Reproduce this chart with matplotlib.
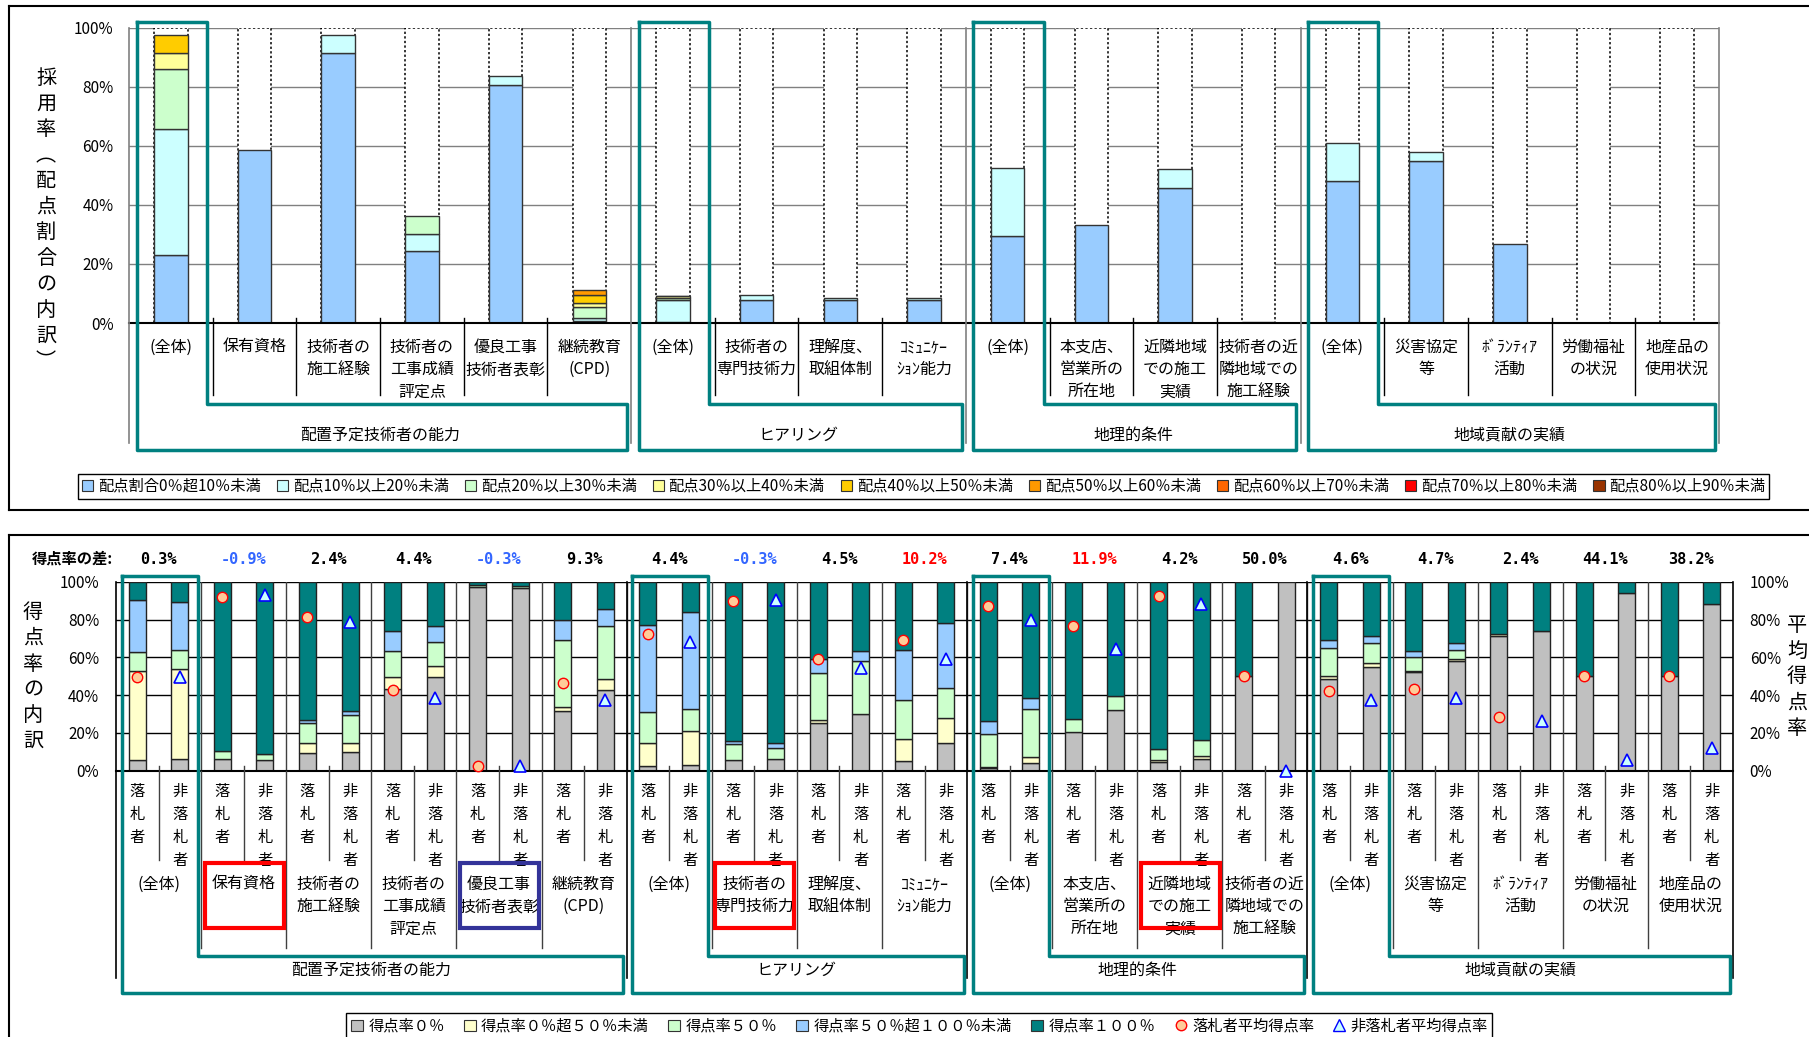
import numpy as np
import matplotlib.pyplot as plt
import matplotlib.transforms as mtransforms
from matplotlib.lines import Line2D
from matplotlib.patches import Patch, Rectangle

plt.rcParams['font.family'] = ['Noto Sans CJK JP', 'DejaVu Sans']

W, H = 1809, 1037

# ---------------- 共通の項目 ----------------
item_labels = ["(全体)", "保有資格", "技術者の\n施工経験", "技術者の\n工事成績\n評定点",
               "優良工事\n技術者表彰", "継続教育\n(CPD)",
               "(全体)", "技術者の\n専門技術力", "理解度、\n取組体制", "ｺﾐｭﾆｹｰ\nｼｮﾝ能力",
               "(全体)", "本支店、\n営業所の\n所在地", "近隣地域\nでの施工\n実績",
               "技術者の近\n隣地域での\n施工経験",
               "(全体)", "災害協定\n等", "ﾎﾞﾗﾝﾃｨｱ\n活動", "労働福祉\nの状況", "地産品の\n使用状況"]
group_names = ["配置予定技術者の能力", "ヒアリング", "地理的条件", "地域貢献の実績"]
group_spans = [(0, 5), (6, 9), (10, 13), (14, 18)]

# ---------------- 上段: 採用率（配点割合の内訳） ----------------
band_labels = ["配点割合0％超10％未満", "配点10％以上20％未満", "配点20％以上30％未満",
               "配点30％以上40％未満", "配点40％以上50％未満", "配点50％以上60％未満",
               "配点60％以上70％未満", "配点70％以上80％未満", "配点80％以上90％未満"]
band_colors = ["#99CCFF", "#CCFFFF", "#CCFFCC", "#FFFF99", "#FFCC00",
               "#FF9900", "#FF6600", "#FF0000", "#993300"]

b00_10 = [23.0, 58.7, 91.3, 24.3, 80.5, 0.6, 0.2, 7.9, 7.9, 7.9,
          29.6, 33.2, 45.7, 0.2, 48.2, 54.7, 26.8, 0, 0]
b10_20 = [42.8, 0, 6.2, 5.9, 3.1, 1.1, 7.5, 1.7, 0.7, 0.7,
          22.8, 0, 6.4, 0, 12.7, 3.1, 0, 0, 0]
b20_30 = [20.1, 0, 0, 6.2, 0, 3.7, 0.8, 0, 0, 0, 0, 0, 0, 0, 0, 0, 0, 0, 0]
b30_40 = [5.7, 0, 0, 0, 0, 1.4, 0.5, 0, 0, 0, 0, 0, 0, 0, 0, 0, 0, 0, 0]
b40_50 = [5.9, 0, 0, 0, 0, 2.8, 0.3, 0, 0, 0, 0, 0, 0, 0, 0, 0, 0, 0, 0]
b50_60 = [0, 0, 0, 0, 0, 1.7, 0, 0, 0, 0, 0, 0, 0, 0, 0, 0, 0, 0, 0]
b60_70 = [0] * 19
b70_80 = [0] * 19
b80_90 = [0] * 19
top_bands = [b00_10, b10_20, b20_30, b30_40, b40_50, b50_60, b60_70, b70_80, b80_90]
top_frame = [100] * 19

# ---------------- 下段: 得点率の内訳 ----------------
diff_text = ["0.3%", "-0.9%", "2.4%", "4.4%", "-0.3%", "9.3%", "4.4%", "-0.3%", "4.5%",
             "10.2%", "7.4%", "11.9%", "4.2%", "50.0%", "4.6%", "4.7%", "2.4%", "44.1%", "38.2%"]
diff_color = ["black", "#3366FF", "black", "black", "#3366FF", "black", "black", "#3366FF",
              "black", "#FF0000", "black", "#FF0000", "black", "black", "black", "black",
              "black", "black", "black"]

# 落札者
gray_w = [5.6, 6.0, 9.2, 43.0, 97.0, 31.6, 2.5, 5.6, 25.0, 5.1, 1.2, 20.5, 4.6, 50.0,
          48.7, 52.0, 71.4, 50.0, 50.0]
yel_w = [47.3, 0, 5.6, 6.4, 0, 2.3, 12.3, 0, 1.8, 11.7, 1.0, 0, 1.0, 0, 1.4, 0.7, 0.9, 0, 0]
grn_w = [9.7, 4.6, 10.6, 13.9, 1.1, 35.4, 16.4, 8.5, 24.7, 20.6, 17.2, 7.1, 5.7, 0,
         14.6, 7.6, 0, 0, 0]
blu_w = [27.5, 0, 1.4, 10.8, 0, 10.4, 45.9, 1.4, 7.4, 26.6, 7.1, 0, 0, 0, 4.4, 3.0, 0, 0, 0]
teal_w = [9.9, 89.4, 73.2, 25.9, 1.9, 20.3, 22.9, 84.5, 41.1, 36.0, 73.5, 72.4, 88.7, 50.0,
          30.9, 36.7, 27.7, 50.0, 50.0]
# 非落札者
gray_l = [6.2, 5.6, 9.9, 49.4, 96.8, 42.7, 3.2, 6.3, 30.0, 14.5, 4.0, 31.9, 6.0, 100.0,
          55.0, 57.8, 74.1, 94.2, 88.2]
yel_l = [47.6, 0, 4.9, 5.8, 0, 5.6, 18.0, 0, 0, 13.2, 3.1, 0, 1.8, 0, 1.8, 1.3, 0, 0, 0]
grn_l = [9.9, 3.0, 14.5, 12.9, 0.9, 28.1, 11.6, 5.5, 28.2, 16.3, 25.4, 7.7, 8.2, 0,
         10.9, 4.6, 0, 0, 0]
blu_l = [25.7, 0, 2.3, 8.6, 0, 9.0, 51.0, 2.7, 5.1, 34.0, 5.8, 0, 0, 0, 3.7, 3.8, 0, 0, 0]
teal_l = [10.6, 91.4, 68.4, 23.3, 2.3, 14.6, 16.2, 85.5, 36.7, 22.0, 61.7, 60.4, 84.0, 0,
          28.6, 32.5, 25.9, 5.8, 11.8]

win_avg = [49.7, 92.1, 81.3, 42.9, 2.3, 46.6, 72.5, 89.9, 58.9, 69.1, 87.1, 76.5, 92.6,
           50.0, 42.2, 43.0, 28.6, 50.0, 50.0]
lose_avg = [49.4, 93.0, 78.9, 38.5, 2.6, 37.3, 68.1, 90.2, 54.4, 58.9, 79.7, 64.6, 88.4,
            0.0, 37.6, 38.3, 26.2, 5.9, 11.8]

score_labels = ["得点率０％", "得点率０％超５０％未満", "得点率５０％",
                "得点率５０％超１００％未満", "得点率１００％"]
score_colors = ["#C0C0C0", "#FFFFCC", "#CCFFCC", "#99CCFF", "#008080"]
win_bands = [gray_w, yel_w, grn_w, blu_w, teal_w]
lose_bands = [gray_l, yel_l, grn_l, blu_l, teal_l]

red_items = [1, 7, 12]
blue_items = [4]

TEAL = "#008080"

fig = plt.figure(figsize=(W / 100, H / 100), dpi=100)


def fx(px):
    return px / W


def fy(py):
    return 1 - py / H


def line_fig(ax, xs, ys_px, **kw):
    tr = mtransforms.blended_transform_factory(ax.transData, fig.transFigure)
    fig.add_artist(Line2D(xs, [fy(v) for v in ys_px], transform=tr, **kw))


def text_fig(ax, x, y_px, s, **kw):
    tr = mtransforms.blended_transform_factory(ax.transData, fig.transFigure)
    ax.text(x, fy(y_px), s, transform=tr, **kw)


# パネル枠
for xs, ys in [([9, W], [5.7, 5.7]), ([9, W], [510, 510]), ([9, 9], [5.7, 510]),
               ([9, W], [535, 535]), ([9, 9], [535, H])]:
    fig.add_artist(Line2D([fx(v) for v in xs], [fy(v) for v in ys],
                          transform=fig.transFigure, color="black", lw=1.5))

# ================= 上段 =================
ax1 = fig.add_axes([fx(129), fy(323), (1719 - 129) / W, (323 - 27.7) / H])
x_top = np.arange(len(item_labels))
ax1.bar(x_top, top_frame, width=0.4, color="white", edgecolor="black",
        linestyle=(0, (1.5, 1.5)), linewidth=1.1, zorder=2)
bottom = np.zeros(len(x_top))
for vals, col in zip(top_bands, band_colors):
    vals = np.array(vals, dtype=float)
    m = vals > 0
    if m.any():
        ax1.bar(x_top[m], vals[m], 0.4, bottom=bottom[m], color=col,
                edgecolor="#333333", linewidth=1, zorder=3)
    bottom += vals

for y in range(20, 101, 20):
    ax1.axhline(y, color="#808080", lw=1, zorder=1)
ax1.axhline(0, color="black", lw=1.5, zorder=4, clip_on=False)
ax1.set_xlim(-0.5, 18.5)
ax1.set_ylim(0, 100)
for sp in ax1.spines.values():
    sp.set_visible(False)
ax1.set_xticks([])
ax1.set_yticks(range(0, 101, 20))
ax1.set_yticklabels([f"{v}%" for v in range(0, 101, 20)])
ax1.tick_params(axis="y", length=0, pad=11, labelsize=11)

bounds_top = [-0.5, 5.5, 9.5, 13.5, 18.5]
for xb in bounds_top:
    line_fig(ax1, [xb, xb], [27.7, 443], color="#808080", lw=1.2)
for i in range(18):
    xb = i + 0.5
    if xb not in bounds_top:
        line_fig(ax1, [xb, xb], [318, 395], color="black", lw=1)

for i, lab in enumerate(item_labels):
    text_fig(ax1, i, 339, lab, ha="center", va="top", fontsize=11.5, linespacing=1.4)

for (a, b), name in zip(group_spans, group_names):
    text_fig(ax1, (a + b) / 2, 435, name, ha="center", va="center", fontsize=11.5)
    x0, x1, x2 = a - 0.5 + 0.09, a + 0.5 - 0.07, b + 0.5 - 0.05
    line_fig(ax1, [x0, x1, x1, x2, x2, x0, x0], [22, 22, 404, 404, 450.5, 450.5, 22],
             color=TEAL, lw=2.5, zorder=6)

fig.text(fx(46), fy(220), "\n".join("採用率︵配点割合の内訳︶"), ha="center", va="center",
         fontsize=14.5, linespacing=1.3)

h1 = [Patch(facecolor=c, edgecolor="#333333", lw=0.8) for c in band_colors]
leg1 = fig.legend(h1, band_labels, loc="upper left", bbox_to_anchor=(fx(78), fy(474)),
                  ncol=9, fontsize=11, frameon=True, fancybox=False, edgecolor="black",
                  framealpha=1, handlelength=0.75, handleheight=0.75, handletextpad=0.3,
                  columnspacing=1.05, borderpad=0.25, borderaxespad=0)
leg1.get_frame().set_linewidth(1)

# ================= 下段 =================
ax2 = fig.add_axes([fx(116), fy(770.7), (1733 - 116) / W, (770.7 - 581.7) / H])
xw = np.arange(19) * 2
xl = xw + 1
bw = np.zeros(19)
bl = np.zeros(19)
for vw, vl, col in zip(win_bands, lose_bands, score_colors):
    vw = np.array(vw, dtype=float)
    vl = np.array(vl, dtype=float)
    m = vw > 0
    ax2.bar(xw[m], vw[m], 0.4, bottom=bw[m], color=col, edgecolor="#222222", lw=1, zorder=3)
    m = vl > 0
    ax2.bar(xl[m], vl[m], 0.4, bottom=bl[m], color=col, edgecolor="#222222", lw=1, zorder=3)
    bw += vw
    bl += vl

ax2.plot(xw, win_avg, "o", ms=7.5, mfc="#FFCC99", mec="#FF0000", mew=1, zorder=5, clip_on=False)
ax2.plot(xl, lose_avg, "^", ms=8, mfc="#CCFFFF", mec="#0000FF", mew=1.2, zorder=5,
         clip_on=False)

for y in range(20, 101, 20):
    ax2.axhline(y, color="black", lw=1, zorder=1)
ax2.axhline(0, color="black", lw=1.5, zorder=4, clip_on=False)
for c in range(1, 19):
    ax2.axvline(2 * c - 0.5, color="#404040", lw=1, zorder=1)
ax2.set_xlim(-0.5, 37.5)
ax2.set_ylim(0, 100)
for sp in ax2.spines.values():
    sp.set_visible(False)
ax2.set_xticks([])
ax2.set_yticks(range(0, 101, 20))
ax2.set_yticklabels([f"{v}%" for v in range(0, 101, 20)])
ax2.tick_params(axis="y", length=0, pad=12, labelsize=11, labelleft=True, labelright=True)

group_cats = [0, 6, 10, 14, 19]
for c in range(20):
    xb = 2 * c - 0.5
    if c in group_cats:
        line_fig(ax2, [xb, xb], [581.7, 978], color="black", lw=1.2)
    else:
        line_fig(ax2, [xb, xb], [770.7, 948], color="#404040", lw=1)
for c in range(19):
    line_fig(ax2, [2 * c + 0.5, 2 * c + 0.5], [766, 860], color="#404040", lw=1)

for c in range(19):
    text_fig(ax2, 2 * c, 783, "落\n札\n者", ha="center", va="top", fontsize=11, linespacing=1.45)
    text_fig(ax2, 2 * c + 1, 783, "非\n落\n札\n者", ha="center", va="top", fontsize=11,
             linespacing=1.45)
    text_fig(ax2, 2 * c + 0.5, 876, item_labels[c], ha="center", va="top", fontsize=11.5,
             linespacing=1.4)
    text_fig(ax2, 2 * c + 0.5, 559, diff_text[c], ha="center", va="center", fontsize=11,
             fontweight="bold", color=diff_color[c], family="DejaVu Sans Mono")

fig.text(fx(72), fy(559), "得点率の差:", ha="center", va="center", fontsize=11, fontweight="bold")

tr2 = mtransforms.blended_transform_factory(ax2.transData, fig.transFigure)
for c in red_items + blue_items:
    col = "#FF0000" if c in red_items else "#333399"
    fig.add_artist(Rectangle((2 * c + 0.5 - 0.92, fy(928)), 1.86, fy(863) - fy(928),
                             transform=tr2, fill=False, edgecolor=col, lw=3, zorder=7))

for (a, b), name in zip(group_spans, group_names):
    text_fig(ax2, a + b + 0.5, 970, name, ha="center", va="center", fontsize=11.5)
    x0, x1, x2 = 2 * a - 0.5 + 0.13, 2 * a + 1.5 - 0.08, 2 * b + 1.5 - 0.08
    line_fig(ax2, [x0, x1, x1, x2, x2, x0, x0], [575.7, 575.7, 956, 956, 993, 993, 575.7],
             color=TEAL, lw=2.5, zorder=6)

fig.text(fx(33), fy(677), "\n".join("得点率の内訳"), ha="center", va="center",
         fontsize=14.5, linespacing=1.3)
fig.text(fx(1797), fy(677), "\n".join("平均得点率"), ha="center", va="center",
         fontsize=14.5, linespacing=1.3)

h2 = [Patch(facecolor=c, edgecolor="#333333", lw=0.8) for c in score_colors]
h2.append(Line2D([], [], marker="o", ls="none", ms=7.5, mfc="#FFCC99", mec="#FF0000"))
h2.append(Line2D([], [], marker="^", ls="none", ms=8, mfc="#CCFFFF", mec="#0000FF"))
leg2 = fig.legend(h2, score_labels + ["落札者平均得点率", "非落札者平均得点率"], loc="upper left",
                  bbox_to_anchor=(fx(346), fy(1013)), ncol=7, fontsize=11, frameon=True,
                  fancybox=False, edgecolor="black", framealpha=1, handlelength=0.8,
                  handleheight=0.75, handletextpad=0.35, columnspacing=1.25, borderpad=0.3,
                  borderaxespad=0)
leg2.get_frame().set_linewidth(1)

fig.savefig("out.png", dpi=100)
